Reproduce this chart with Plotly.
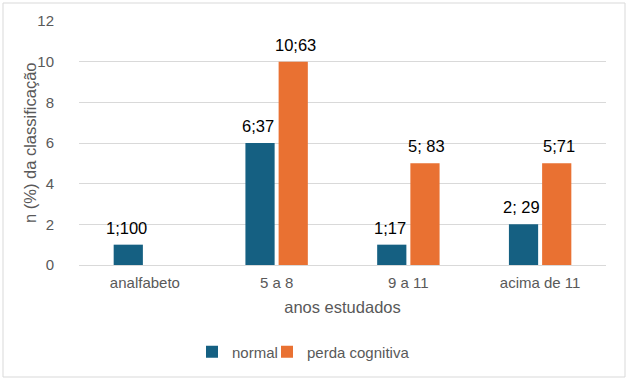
import plotly.graph_objects as go

categories = ["analfabeto", "5 a 8", "9 a 11", "acima de 11"]
normal_vals = [1, 6, 1, 2]
normal_labels = ["1;100", "6;37", "1;17", "2; 29"]
perda_vals = [None, 10, 5, 5]
perda_labels = ["", "10;63", "5; 83", "5;71"]

BLUE = "#156082"
ORANGE = "#E97132"
GRAY = "#595959"
FONT = "Liberation Sans, Arial, sans-serif"

fig = go.Figure()
fig.add_trace(go.Bar(name="normal", x=categories, y=normal_vals, marker_color=BLUE,
                     marker_line_width=0, legend="legend"))
fig.add_trace(go.Bar(name="perda cognitiva", x=categories, y=perda_vals, marker_color=ORANGE,
                     marker_line_width=0, legend="legend2"))

annotations = []
for cat, v, lab in zip(categories, normal_vals, normal_labels):
    if v is not None and lab:
        annotations.append(dict(x=cat, y=v, text=lab, xref="x", yref="y", showarrow=False,
                                xshift=-18.5, yshift=6, yanchor="bottom",
                                font=dict(size=16.5, color="#000000", family=FONT)))
for cat, v, lab in zip(categories, perda_vals, perda_labels):
    if v is not None and lab:
        annotations.append(dict(x=cat, y=v, text=lab, xref="x", yref="y", showarrow=False,
                                xshift=18.5, yshift=6, yanchor="bottom",
                                font=dict(size=16.5, color="#000000", family=FONT)))

W, H = 629, 382
L, R, T, B = 79, 23, 21, 117
pw, ph = W - L - R, H - T - B

def px_x(x):
    return (x - L) / pw

def px_y(y):
    return (H - B - y) / ph

annotations.append(dict(text="n (%) da classificação", xref="paper", yref="paper",
                        x=px_x(30), y=px_y(143), xanchor="center", yanchor="middle",
                        textangle=-90, showarrow=False,
                        font=dict(size=16.5, color=GRAY, family=FONT)))

leg_common = dict(orientation="h", xanchor="left", yanchor="middle", y=px_y(352),
                  font=dict(size=15, color=GRAY), itemwidth=30, bgcolor="rgba(0,0,0,0)")

fig.update_layout(
    width=W, height=H,
    margin=dict(l=L, r=R, t=T, b=B, pad=0),
    paper_bgcolor="white", plot_bgcolor="white",
    font=dict(family=FONT, color=GRAY),
    barmode="group", bargap=0.496, bargroupgap=0.12,
    showlegend=True,
    legend=dict(x=px_x(192), **leg_common),
    legend2=dict(x=px_x(267), **leg_common),
    annotations=annotations,
    shapes=[dict(type="rect", xref="paper", yref="paper",
                 x0=px_x(3), x1=px_x(625), y0=px_y(377), y1=px_y(3),
                 line=dict(color="#d9d9d9", width=1), layer="below")],
)
fig.update_xaxes(showgrid=False, showline=True, linecolor="#d9d9d9", linewidth=1,
                 tickfont=dict(size=15, color=GRAY), ticks="", ticklabelstandoff=4,
                 title=dict(text="anos estudados", font=dict(size=16.5, color=GRAY), standoff=11))
fig.update_yaxes(range=[0, 12], dtick=2, showgrid=True, gridcolor="#d9d9d9", gridwidth=1,
                 zeroline=False, showline=False,
                 tickfont=dict(size=15, color=GRAY), ticks="", ticklabelstandoff=24)

fig.write_html("out.html", config={"displayModeBar": False},
               post_script="document.body.style.margin='0px';")
